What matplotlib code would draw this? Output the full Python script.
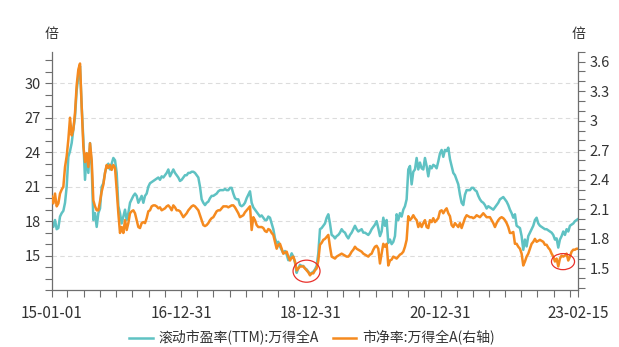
import matplotlib
matplotlib.use('Agg')
import matplotlib.pyplot as plt
import matplotlib.dates as mdates
from matplotlib.patches import Ellipse
import numpy as np
import pandas as pd

plt.rcParams['font.family'] = ['Noto Sans CJK SC', 'DejaVu Sans']

# 滚动市盈率(TTM), 万得全A (left axis)
pe_ttm = [
    18.0, 17.5, 18.1, 17.3, 17.4, 18.4, 18.7, 18.9, 19.6, 21.0,
    23.6, 24.1, 24.8, 26.0, 27.1, 29.4, 30.6, 31.5, 28.0, 25.1,
    21.6, 23.9, 22.2, 24.8, 22.8, 18.1, 18.7, 17.5, 18.7, 19.1,
    21.0, 21.3, 22.2, 22.8, 23.0, 22.5, 23.0, 23.5, 23.3, 22.2,
    19.3, 18.7, 17.8, 18.4, 19.0, 18.1, 18.7, 19.6, 19.9, 20.2,
    20.4, 20.2, 19.6, 19.9, 20.2, 19.6, 20.2, 20.4, 21.0, 21.3,
    21.4, 21.5,
    21.6, 21.7, 21.8, 21.6, 21.9, 21.8, 22.0, 22.2, 22.5, 21.9,
    22.2, 22.5, 22.2, 22.0, 21.8, 21.5, 21.6, 21.8, 22.0, 22.0,
    22.2, 22.2, 22.3, 22.3, 22.2, 22.0, 21.8, 21.0, 19.9, 19.6,
    19.4, 19.6, 19.7, 20.0, 20.2, 20.2, 20.3, 20.4, 20.6, 20.7,
    20.7, 20.7, 20.8, 20.7, 20.7, 20.9, 20.9, 20.4, 20.0, 19.9,
    19.9, 19.4, 19.3, 19.4, 19.6, 20.0, 20.3, 20.6, 19.6, 19.2,
    19.0, 18.8, 18.6,
    18.4, 18.5, 18.3, 18.1, 18.1, 18.4, 18.3, 17.8, 17.3, 16.5,
    16.1, 16.2, 15.8, 15.5, 15.2, 15.4, 15.1, 14.6, 14.8, 15.2,
    14.9, 14.4, 13.5, 13.9, 14.2, 14.1, 14.1, 13.9, 13.8, 13.6,
    13.4, 13.5, 13.6, 13.8, 14.1, 15.2, 17.3, 17.4, 17.6, 17.8,
    18.3, 18.6, 17.8, 16.8, 16.7, 16.5, 16.7, 16.8, 17.0, 17.3,
    17.1, 17.0, 16.7, 16.5, 16.8, 17.0, 17.3, 17.6, 17.3, 17.1,
    17.2, 17.3, 17.0,
    17.0, 16.9, 16.8, 17.0, 17.3, 17.5, 17.7, 18.0, 17.4, 16.7,
    17.1, 18.3, 17.6, 18.1, 16.1, 16.4, 16.0, 16.2, 16.7, 18.6,
    18.1, 18.7, 18.4, 19.0, 19.3, 19.9, 22.5, 22.8, 21.2, 22.3,
    22.5, 23.5, 22.5, 23.1, 22.6, 22.5, 23.5, 22.8, 21.9, 22.8,
    22.6, 22.9, 22.8, 22.6, 23.2, 23.9, 24.2, 23.6, 24.2, 24.1,
    24.4, 23.4, 22.8, 22.2, 22.0, 21.6, 21.2, 20.3, 19.6, 19.4,
    20.3, 20.7, 20.7,
    20.7, 20.9, 20.9, 20.7, 20.6, 20.2, 19.9, 19.7, 19.6, 19.4,
    19.1, 19.3, 19.2, 19.1, 19.0, 19.2, 19.4, 19.6, 19.9, 20.0,
    20.1, 19.9, 19.7, 19.4, 19.0, 18.7, 18.3, 18.6, 17.6, 17.5,
    17.4, 16.7, 15.5, 16.4, 15.8, 16.7, 17.0, 17.3, 17.6, 18.1,
    18.3, 17.8, 17.6, 17.5, 17.4, 17.3, 17.3, 17.2, 17.1, 17.0,
    16.8, 16.4, 16.5, 15.7, 16.4, 16.7, 17.1, 16.8, 17.3, 17.1,
    17.6, 17.7, 17.8, 18.0, 18.1, 18.2,
]

# 市净率, 万得全A (right axis)
pb = [
    2.23, 2.16, 2.26, 2.13, 2.16, 2.26, 2.30, 2.33, 2.53, 2.64,
    2.81, 3.03, 2.85, 2.91, 3.08, 3.36, 3.52, 3.58, 3.14, 2.74,
    2.58, 2.67, 2.53, 2.77, 2.60, 2.19, 2.13, 2.09, 2.09, 2.18,
    2.28, 2.35, 2.47, 2.55, 2.52, 2.55, 2.50, 2.55, 2.52, 2.30,
    2.06, 1.86, 1.92, 1.86, 1.99, 1.89, 1.96, 2.06, 2.08, 2.09,
    2.06, 1.99, 1.92, 1.91, 1.96, 1.97, 1.96, 2.01, 2.08, 2.09,
    2.13, 2.14,
    2.14, 2.13, 2.11, 2.12, 2.09, 2.10, 2.11, 2.13, 2.14, 2.12,
    2.09, 2.14, 2.12, 2.09, 2.09, 2.08, 2.05, 2.02, 2.04, 2.06,
    2.09, 2.11, 2.13, 2.14, 2.13, 2.11, 2.09, 2.04, 1.99, 1.94,
    1.93, 1.94, 1.96, 1.99, 2.01, 2.02, 2.05, 2.08, 2.09, 2.09,
    2.11, 2.13, 2.13, 2.13, 2.12, 2.13, 2.14, 2.14, 2.12, 2.09,
    2.06, 2.02, 2.03, 2.04, 2.07, 2.09, 2.11, 2.13, 1.89, 2.02,
    1.99, 1.94, 1.92,
    1.92, 1.92, 1.91, 1.88, 1.87, 1.90, 1.89, 1.86, 1.84, 1.77,
    1.70, 1.74, 1.75, 1.70, 1.65, 1.66, 1.67, 1.62, 1.58, 1.61,
    1.62, 1.57, 1.48, 1.50, 1.52, 1.52, 1.52, 1.50, 1.48, 1.46,
    1.43, 1.45, 1.45, 1.48, 1.50, 1.58, 1.74, 1.76, 1.79, 1.80,
    1.82, 1.84, 1.72, 1.62, 1.61, 1.60, 1.62, 1.63, 1.64, 1.65,
    1.64, 1.63, 1.62, 1.62, 1.64, 1.67, 1.69, 1.72, 1.70, 1.69,
    1.68, 1.67, 1.65,
    1.64, 1.63, 1.62, 1.64, 1.65, 1.69, 1.72, 1.73, 1.70, 1.55,
    1.65, 1.75, 1.72, 1.75, 1.53, 1.58, 1.59, 1.62, 1.61, 1.60,
    1.62, 1.64, 1.65, 1.67, 1.72, 1.79, 2.03, 1.99, 2.01, 2.04,
    2.01, 1.99, 1.92, 1.96, 1.92, 1.96, 1.99, 1.92, 1.91, 1.99,
    1.97, 2.01, 1.97, 1.99, 2.01, 2.08, 2.09, 2.06, 2.09, 2.11,
    2.06, 2.03, 1.94, 1.92, 1.96, 1.94, 1.92, 1.96, 1.91, 1.96,
    2.01, 2.04, 2.03,
    2.02, 2.02, 2.01, 2.02, 2.04, 2.03, 2.02, 2.04, 2.06, 2.04,
    2.02, 2.02, 2.02, 1.99, 1.96, 1.92, 1.96, 1.99, 2.01, 2.02,
    2.01, 1.99, 1.96, 1.92, 1.86, 1.86, 1.87, 1.75, 1.75, 1.72,
    1.70, 1.65, 1.53, 1.57, 1.62, 1.65, 1.70, 1.75, 1.77, 1.80,
    1.77, 1.78, 1.79, 1.78, 1.77, 1.74, 1.74, 1.71, 1.69, 1.65,
    1.62, 1.57, 1.60, 1.52, 1.60, 1.63, 1.62, 1.63, 1.65, 1.58,
    1.62, 1.67, 1.69, 1.69, 1.70, 1.70,
]

dates = pd.date_range('2015-01-01', '2023-02-15', periods=len(pe_ttm))

x_label_dates = ['2015-01-01', '2016-12-31', '2018-12-31', '2020-12-31', '2023-02-15']
x_labels = ['15-01-01', '16-12-31', '18-12-31', '20-12-31', '23-02-15']
pe_ticks = [15, 18, 21, 24, 27, 30]
pb_ticks = [1.5, 1.8, 2.1, 2.4, 2.7, 3.0, 3.3, 3.6]
pb_labels = ['1.5', '1.8', '2.1', '2.4', '2.7', '3', '3.3', '3.6']

# highlighted lows: (center date, center pb, width in days, height in pb)
marks = [('2018-12-07', 1.472, 152, 0.224), ('2022-11-21', 1.569, 130, 0.163)]

teal = '#5fc2c3'
orange = '#f58a1f'
axis_gray = '#6e6e6e'
text_gray = '#333333'

fig = plt.figure(figsize=(6.19, 3.47), dpi=100)
ax = fig.add_axes([0.0835, 0.164, 0.8507, 0.687])
ax2 = ax.twinx()

ax.plot(dates, pe_ttm, color=teal, lw=1.8, label='滚动市盈率(TTM):万得全A')
ax2.plot(dates, pb, color=orange, lw=1.8, label='市净率:万得全A(右轴)')

for d, c, w, h in marks:
    ax2.add_patch(Ellipse((mdates.date2num(pd.Timestamp(d)), c), w, h,
                          fill=False, edgecolor='#e8302a', lw=0.9, zorder=5))

ax.set_xlim(dates[0], dates[-1])
ax.set_ylim(12, 32.75)
ax2.set_ylim(1.28, 3.7)

ax.set_yticks(pe_ticks)
ax.set_yticks(np.arange(12, 33), minor=True)
ax2.set_yticks(pb_ticks)
ax2.set_yticklabels(pb_labels)
ax2.set_yticks(np.arange(1.3, 3.71, 0.1), minor=True)

quarter_ends = [pd.Timestamp(f'{y}-{md}') for y in range(2015, 2023)
                for md in ('03-31', '06-30', '09-30', '12-31')]
ax.set_xticks([pd.Timestamp(d) for d in x_label_dates])
ax.set_xticklabels(x_labels)
ax.set_xticks(quarter_ends, minor=True)

ax.yaxis.grid(True, which='major', color='#dcdcdc', linestyle=(0, (4, 3)), lw=0.8)
ax.set_axisbelow(True)

for a in (ax, ax2):
    a.tick_params(which='both', length=5, width=0.8, color=axis_gray,
                  labelcolor=text_gray, labelsize=10.5)
    a.spines['top'].set_visible(False)
    for s in a.spines.values():
        s.set_color(axis_gray)
        s.set_linewidth(0.9)
ax.spines['right'].set_visible(False)
ax2.spines['left'].set_visible(False)
ax2.spines['bottom'].set_visible(False)
ax.tick_params(axis='y', pad=3)
ax2.tick_params(axis='y', pad=3)
ax.tick_params(axis='x', which='both', pad=6, labelsize=11)

fig.text(0.0835, 0.902, '倍', ha='center', va='center', fontsize=10, color=text_gray)
fig.text(0.934, 0.902, '倍', ha='center', va='center', fontsize=10, color=text_gray)

h1, l1 = ax.get_legend_handles_labels()
h2, l2 = ax2.get_legend_handles_labels()
fig.legend(h1 + h2, l1 + l2, loc='center', bbox_to_anchor=(0.504, 0.026), ncol=2,
           frameon=False, fontsize=10, handlelength=1.7, handletextpad=0.4,
           columnspacing=1.0, labelcolor=text_gray)

fig.savefig('out.png', dpi=100)
